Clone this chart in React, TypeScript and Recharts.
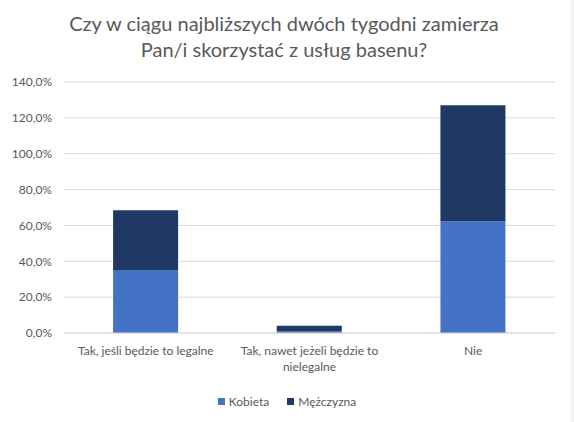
import { BarChart, Bar, XAxis, YAxis, CartesianGrid } from 'recharts';

const CATEGORIES = ['Tak, jeśli będzie to legalne', 'Tak, nawet jeżeli będzie to nielegalne', 'Nie'];
const KOBIETA = [35.1, 0.9, 62.4];
const MEZCZYZNA = [33.4, 3.2, 64.6];
const Y_TICKS = [0, 20, 40, 60, 80, 100, 120, 140];

const TEXT_COLOR = '#595959';
const FONT = 'Lato, "Open Sans", sans-serif';

const data = CATEGORIES.map((name, i) => ({ name, kobieta: KOBIETA[i], mezczyzna: MEZCZYZNA[i] }));

// greedy word wrap, roughly how the original breaks its category labels
const wrapLabel = (label: string, maxChars = 28) => {
  const lines: string[] = [];
  let line = '';
  label.split(' ').forEach((word) => {
    const next = line ? `${line} ${word}` : word;
    if (next.length > maxChars && line) {
      lines.push(line);
      line = word;
    } else {
      line = next;
    }
  });
  if (line) lines.push(line);
  return lines;
};

const CategoryTick = (props: any) => {
  const { x, y, payload } = props;
  const lines = wrapLabel(payload.value);
  return (
    <text x={x} y={y} textAnchor="middle" fill={TEXT_COLOR} fontSize={12} fontFamily={FONT}>
      {lines.map((l, i) => (
        <tspan key={i} x={x} dy={i === 0 ? '0.85em' : 16}>
          {l}
        </tspan>
      ))}
    </text>
  );
};

const LegendItem = ({ color, label }: { color: string; label: string }) => (
  <span style={{ display: 'inline-flex', alignItems: 'center', margin: '0 9px' }}>
    <span style={{ width: 7, height: 7, background: color, marginRight: 4, display: 'inline-block' }} />
    {label}
  </span>
);

const App = () => {
  return (
    <div
      style={{
        position: 'absolute',
        left: 0,
        top: 0,
        width: 574,
        height: 422,
        background: '#fff',
        fontFamily: FONT,
        boxSizing: 'border-box',
        borderRight: '3px solid #f2f2f2',
      }}
    >
      <div
        style={{
          position: 'absolute',
          top: 10,
          left: 0,
          width: 568,
          textAlign: 'center',
          fontSize: 20,
          lineHeight: '26px',
          color: TEXT_COLOR,
        }}
      >
        Czy w ciągu najbliższych dwóch tygodni zamierza
        <br />
        Pan/i skorzystać z usług basenu?
      </div>
      <BarChart
        width={574}
        height={422}
        data={data}
        margin={{ top: 82, right: 19, left: 0, bottom: 49 }}
        barCategoryGap="30%"
      >
        <CartesianGrid vertical={false} stroke="#d9d9d9" />
        <XAxis
          dataKey="name"
          tick={<CategoryTick />}
          tickLine={false}
          axisLine={{ stroke: '#d9d9d9' }}
          tickSize={0}
          tickMargin={12}
          height={40}
          interval={0}
        />
        <YAxis
          domain={[0, 140]}
          ticks={Y_TICKS}
          tickFormatter={(v: number) => `${v.toFixed(1).replace('.', ',')}%`}
          tick={{ fill: TEXT_COLOR, fontSize: 12, fontFamily: FONT }}
          axisLine={false}
          tickLine={false}
          tickSize={0}
          tickMargin={12}
          width={64}
        />
        <Bar dataKey="kobieta" stackId="a" fill="#4472C4" isAnimationActive={false} />
        <Bar dataKey="mezczyzna" stackId="a" fill="#203864" isAnimationActive={false} />
      </BarChart>
      <div
        style={{
          position: 'absolute',
          top: 393,
          left: 0,
          width: 574,
          textAlign: 'center',
          fontSize: 12,
          color: TEXT_COLOR,
        }}
      >
        <LegendItem color="#4472C4" label="Kobieta" />
        <LegendItem color="#203864" label="Mężczyzna" />
      </div>
    </div>
  );
};

export default App;
